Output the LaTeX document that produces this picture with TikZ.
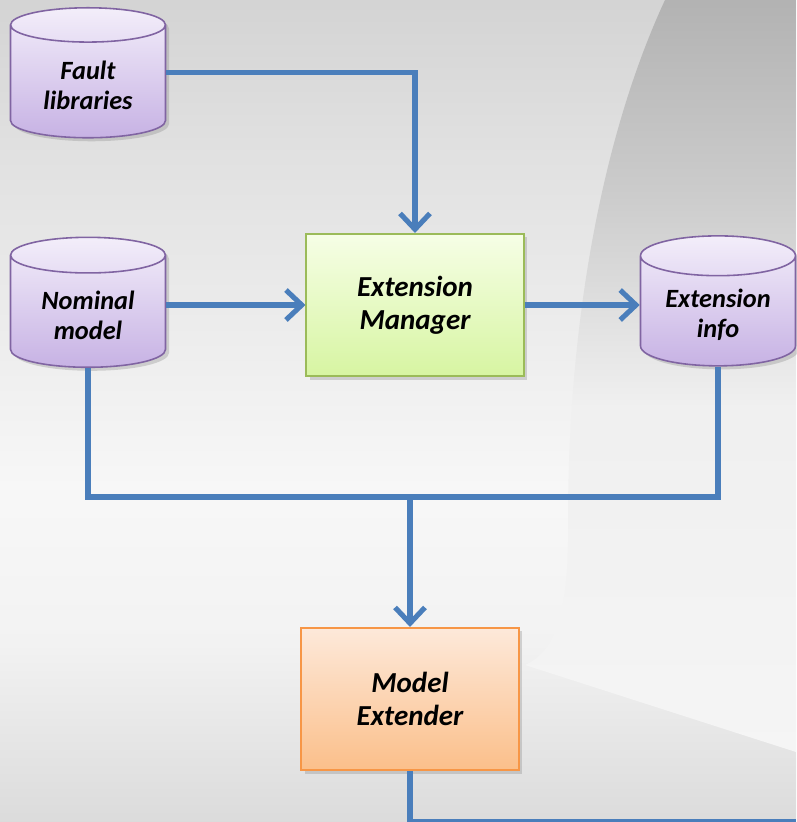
\documentclass[tikz,border=0pt]{standalone}
\usepackage{fontspec}
\setmainfont{Carlito}
\usetikzlibrary{arrows.meta}
\usetikzlibrary{shapes.geometric}
\usetikzlibrary{shadows}
\usetikzlibrary{positioning}
\definecolor{flowblue}{HTML}{4A7EBB}
\definecolor{dbborder}{HTML}{8064A2}
\definecolor{dbtop}{HTML}{F3EEFA}
\definecolor{dbbot}{HTML}{C7B2E4}
\definecolor{mgrborder}{HTML}{9BBB59}
\definecolor{mgrtop}{HTML}{F6FEE6}
\definecolor{mgrbot}{HTML}{D7F5A2}
\definecolor{extborder}{HTML}{F79646}
\definecolor{exttop}{HTML}{FDE9DA}
\definecolor{extbot}{HTML}{FBBF8A}
\pgfdeclareverticalshading{backshade}{100bp}{color(0bp)=(black!14);
  color(25bp)=(black!14); color(36bp)=(black!5); color(45bp)=(black!3);
  color(66bp)=(black!12); color(75bp)=(black!17); color(100bp)=(black!17)}
\pgfdeclareverticalshading{arcshade}{100bp}{color(0bp)=(black!4);
  color(25bp)=(black!4); color(48bp)=(black!6); color(62bp)=(black!20);
  color(75bp)=(black!30); color(100bp)=(black!30)}
\tikzset{
  dbase/.style={cylinder, shape border rotate=90, aspect=0.34,
    draw=dbborder, line width=0.9pt, top color=dbtop, bottom color=dbbot,
    minimum width=3.1cm, minimum height=2.6cm, align=center,
    font=\fontsize{15}{17}\selectfont\bfseries\itshape,
    drop shadow={opacity=0.3, shadow xshift=2pt, shadow yshift=-2pt}},
  procbox/.style={rectangle, draw, line width=0.9pt, align=center,
    minimum width=4.35cm, minimum height=2.85cm,
    font=\fontsize{16.5}{19}\selectfont\bfseries\itshape,
    drop shadow={opacity=0.3, shadow xshift=2pt, shadow yshift=-2pt}},
  line/.style={draw=flowblue, line width=2.9pt},
  flow/.style={line, -{Straight Barb[length=9pt,width=17pt]}},
}
\begin{document}
\begin{tikzpicture}[x=0.02cm, y=-0.02cm]
  % background
  \shade[shading=backshade] (0,0) rectangle (796,822);
  \shade[shading=arcshade]
    (665,0) .. controls (600,140) and (568,330) .. (568,520)
    .. controls (569,600) and (560,650) .. (525,665)
    -- (796,752) -- (796,0) -- cycle;
  \useasboundingbox (0,0) rectangle (796,822);

  % stores and tools
  \node[dbase] (fault) at (88,85) {Fault\\libraries};
  \node[dbase] (nominal) at (88,315) {Nominal\\model};
  \node[procbox, draw=mgrborder, top color=mgrtop, bottom color=mgrbot]
    (manager) at (415,305) {Extension\\Manager};
  \node[dbase] (extinfo) at (718,315) {Extension\\info};
  \node[procbox, draw=extborder, top color=exttop, bottom color=extbot]
    (extender) at (410,699) {Model\\Extender};

  \coordinate (merge) at (410,497);
  \coordinate (exit) at (796,822);

  % connectors
  \draw[flow] (fault.shape center -| fault.east) -| (manager.north);
  \draw[flow] (nominal.east |- manager.west) -- (manager.west);
  \draw[flow] (manager.east) -- (extinfo.west |- manager.east);
  \draw[line] (nominal.south) |- (merge) -| (extinfo.south);
  \draw[flow] (merge) -- (extender.north);
  \draw[line] (extender.south) |- (exit);
\end{tikzpicture}
\end{document}
